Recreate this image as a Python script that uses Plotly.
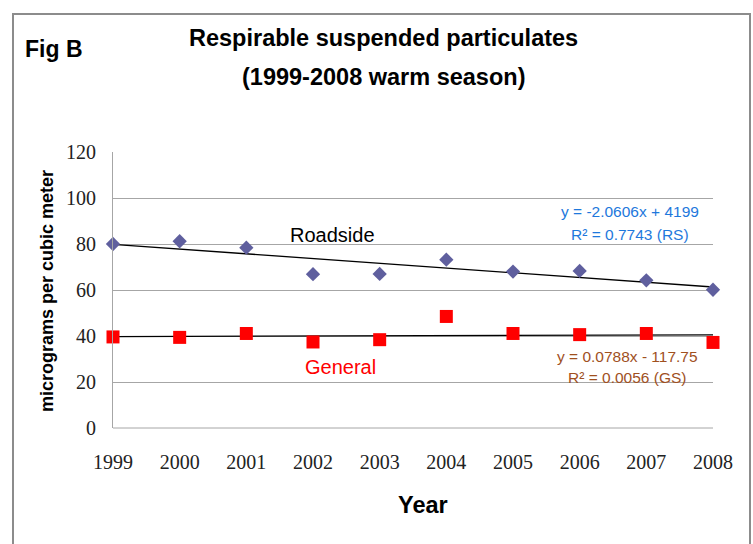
import plotly.graph_objects as go

years = [1999, 2000, 2001, 2002, 2003, 2004, 2005, 2006, 2007, 2008]
roadside = [80, 81.2, 78.4, 66.9, 67, 73.2, 68, 68.3, 64.2, 60.1]
general = [39.6, 39.4, 41.1, 37.4, 38.4, 48.5, 41.1, 40.6, 41.1, 37.2]

# trend line coefficients as printed on the chart
rs_slope, rs_icpt = -2.0606, 4199
gs_slope, gs_icpt = 0.0788, -117.75

y_ticks = [0, 20, 40, 60, 80, 100, 120]

W, H = 753, 544
L, R, T, B = 113, 40, 152, 116
PW, PH = W - L - R, H - T - B

def px(x):
    return (x - L) / PW

def py(y):
    return (H - B - y) / PH

SANS = "Liberation Sans, Arial, sans-serif"
SERIF = "Liberation Serif, Times New Roman, serif"

fig = go.Figure()

fig.add_trace(go.Scatter(
    x=years, y=[rs_slope * x + rs_icpt for x in years], mode="lines",
    line=dict(color="black", width=1.3), showlegend=False, hoverinfo="skip",
    cliponaxis=False))
fig.add_trace(go.Scatter(
    x=years, y=[gs_slope * x + gs_icpt for x in years], mode="lines",
    line=dict(color="black", width=1.3), showlegend=False, hoverinfo="skip",
    cliponaxis=False))

fig.add_trace(go.Scatter(
    x=years, y=roadside, mode="markers", name="Roadside",
    marker=dict(symbol="diamond", size=11, color="#5F5F9E"),
    showlegend=False, cliponaxis=False))
fig.add_trace(go.Scatter(
    x=years, y=general, mode="markers", name="General",
    marker=dict(symbol="square", size=13, color="#FF0000"),
    showlegend=False, cliponaxis=False))

fig.update_layout(
    width=W, height=H,
    margin=dict(l=L, r=R, t=T, b=B),
    paper_bgcolor="white", plot_bgcolor="white",
    showlegend=False,
)

fig.update_xaxes(
    range=[1999, 2008], tickvals=years, ticktext=[str(y) for y in years],
    showgrid=False, zeroline=False, showline=False,
    tickfont=dict(family=SERIF, size=20, color="#222"),
    ticks="", ticklabelstandoff=20,
)
fig.update_yaxes(
    range=[0, 120], tickvals=y_ticks,
    showgrid=True, gridcolor="#A6A6A6", gridwidth=1,
    zeroline=False, showline=True, linecolor="#A6A6A6", linewidth=1,
    tickfont=dict(family=SERIF, size=20, color="#222"),
    ticks="", ticklabelstandoff=12,
)

shapes = [
    dict(type="rect", xref="paper", yref="paper",
         x0=px(13), x1=px(750), y0=py(600), y1=py(14),
         line=dict(color="#8C8C8C", width=2), fillcolor="rgba(0,0,0,0)", layer="below"),
    dict(type="line", xref="paper", yref="paper", x0=0, x1=1, y0=0, y1=0,
         line=dict(color="#A6A6A6", width=1)),
]
fig.update_layout(shapes=shapes)

ann = []
def add(text, x, y, font, xanchor="center", angle=0):
    ann.append(dict(text=text, x=px(x), y=py(y), xref="paper", yref="paper",
                    xanchor=xanchor, yanchor="middle", showarrow=False,
                    font=font, textangle=angle))

add("<b>Respirable suspended particulates</b>", 383, 38, dict(family=SANS, size=23.5, color="black"))
add("<b>(1999-2008 warm season)</b>", 383, 77, dict(family=SANS, size=23.5, color="black"))
add("<b>Fig B</b>", 23, 49, dict(family=SANS, size=23, color="black"), xanchor="left")
add("<b>Year</b>", 423, 505, dict(family=SANS, size=23.5, color="black"))
add("<b>micrograms per cubic meter</b>", 47, 291, dict(family=SANS, size=18, color="black"), angle=-90)
add("Roadside", 332, 235, dict(family=SANS, size=20, color="black"))
add("General", 340, 367, dict(family=SANS, size=20, color="#FF0000"))
add("y = -2.0606x + 4199", 630, 211, dict(family=SANS, size=15.5, color="#1E78DC"))
add("R² = 0.7743 (RS)", 630, 234, dict(family=SANS, size=15.5, color="#1E78DC"))
add("y = 0.0788x - 117.75", 627, 356, dict(family=SANS, size=15.5, color="#A0501E"))
add("R² = 0.0056 (GS)", 627, 377, dict(family=SANS, size=15.5, color="#A0501E"))
fig.update_layout(annotations=ann)

fig.write_html("out.html", config={"displayModeBar": False},
               post_script="document.body.style.margin='0';")
